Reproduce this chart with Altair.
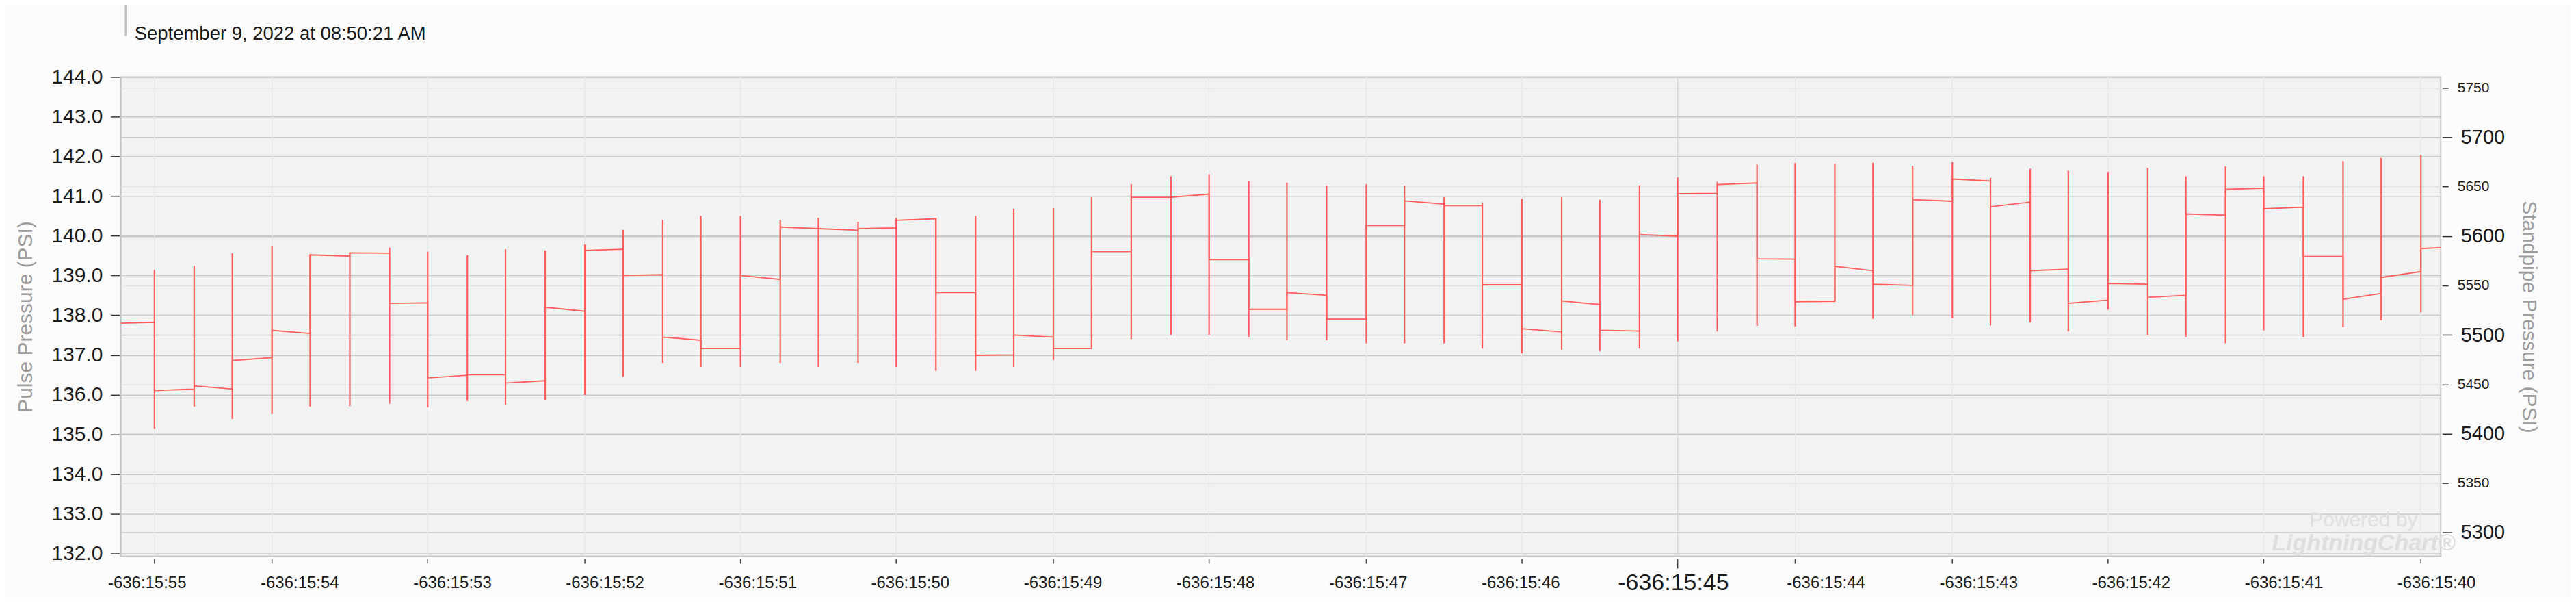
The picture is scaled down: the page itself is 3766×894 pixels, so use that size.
import altair as alt
import pandas as pd

TITLE = "September 9, 2022 at 08:50:21 AM"
LEFT_TITLE = "Pulse Pressure (PSI)"
RIGHT_TITLE = "Standpipe Pressure (PSI)"

# x axis: seconds from the first label; labels sit on whole seconds
x_label_pos = list(range(16))
x_labels = ["-636:15:55", "-636:15:54", "-636:15:53", "-636:15:52", "-636:15:51",
            "-636:15:50", "-636:15:49", "-636:15:48", "-636:15:47", "-636:15:46",
            "-636:15:45", "-636:15:44", "-636:15:43", "-636:15:42", "-636:15:41",
            "-636:15:40"]
x_major_label = 10
x_domain = [-0.17, 15.03]

# tick marks / vertical grid lines (LightningChart puts them on sample times)
tick_times = [0.05, 0.82, 1.84, 2.87, 3.89, 4.91, 5.94, 6.96, 7.99, 9.01,
              10.03, 10.80, 11.83, 12.85, 13.87, 14.90]
tick_major = [False] * 10 + [True] + [False] * 5

# left axis
left_domain = [131.93, 144.0]
left_ticks = [132, 133, 134, 135, 136, 137, 138, 139, 140, 141, 142, 143, 144]
# right axis (same vertical space)
right_domain = [5276, 5761]
right_ticks = [5300, 5350, 5400, 5450, 5500, 5550, 5600, 5650, 5700, 5750]

# Pulse pressure samples: vertical spikes at sample times
spike_t = [0.05, 0.31, 0.56, 0.82, 1.07, 1.33, 1.59, 1.84, 2.10, 2.35,
           2.61, 2.87, 3.12, 3.38, 3.63, 3.89, 4.15, 4.40, 4.66, 4.91,
           5.17, 5.43, 5.68, 5.94, 6.19, 6.45, 6.71, 6.96, 7.22, 7.47,
           7.73, 7.99, 8.24, 8.50, 8.75, 9.01, 9.27, 9.52, 9.78, 10.03,
           10.29, 10.55, 10.80, 11.06, 11.31, 11.57, 11.83, 12.08, 12.34, 12.59,
           12.85, 13.11, 13.36, 13.62, 13.87, 14.13, 14.39, 14.64, 14.90]
spike_hi = [139.14, 139.24, 139.56, 139.73, 139.53, 139.58, 139.70, 139.60, 139.51, 139.66,
            139.63, 139.78, 140.15, 140.40, 140.50, 140.50, 140.40, 140.45, 140.35, 140.45,
            140.45, 140.50, 140.68, 140.70, 140.97, 141.30, 141.50, 141.55, 141.38, 141.34,
            141.26, 141.30, 141.26, 140.97, 140.84, 140.93, 140.97, 140.91, 141.27, 141.47,
            141.36, 141.79, 141.83, 141.81, 141.84, 141.76, 141.86, 141.46, 141.69, 141.64,
            141.61, 141.71, 141.50, 141.75, 141.50, 141.50, 141.88, 141.96, 142.04]
spike_lo = [135.14, 135.70, 135.39, 135.51, 135.70, 135.71, 135.77, 135.68, 135.84, 135.74,
            135.87, 135.99, 136.45, 136.80, 136.70, 136.70, 136.80, 136.70, 136.80, 136.70,
            136.60, 136.60, 136.70, 136.87, 137.20, 137.40, 137.50, 137.50, 137.45, 137.37,
            137.37, 137.29, 137.29, 137.29, 137.16, 137.04, 137.12, 137.09, 137.16, 137.34,
            137.59, 137.73, 137.72, 138.35, 137.91, 138.00, 137.93, 137.74, 137.82, 137.59,
            138.14, 137.50, 137.45, 137.29, 137.62, 137.45, 137.70, 137.87, 138.07]
# level right after each spike, and right before the next one
seg_start = [136.10, 136.22, 136.86, 137.62, 139.52, 139.57, 138.30, 136.42, 136.50, 136.29,
             138.20, 139.63, 139.00, 137.45, 137.16, 139.00, 140.22, 140.18, 140.18, 140.39,
             138.57, 136.99, 137.50, 137.16, 139.60, 140.97, 140.97, 139.40, 138.15, 138.57,
             137.90, 140.26, 140.88, 140.76, 138.77, 137.66, 138.36, 137.62, 140.03, 141.06,
             141.29, 139.42, 138.34, 139.23, 138.78, 140.91, 141.43, 140.73, 139.12, 138.30,
             138.80, 138.45, 140.55, 141.17, 140.68, 139.48, 138.40, 138.95, 139.68]
seg_end = [136.14, 136.14, 136.93, 137.54, 139.49, 139.56, 138.31, 136.49, 136.50, 136.35,
           138.10, 139.66, 139.02, 137.37, 137.16, 138.90, 140.18, 140.14, 140.20, 140.43,
           138.57, 137.00, 137.45, 137.16, 139.60, 140.97, 141.05, 139.40, 138.15, 138.50,
           137.90, 140.26, 140.80, 140.76, 138.77, 137.58, 138.27, 137.60, 139.99, 141.07,
           141.33, 139.41, 138.35, 139.12, 138.75, 140.87, 141.38, 140.85, 139.16, 138.38,
           138.78, 138.50, 140.52, 141.20, 140.72, 139.48, 138.55, 139.10, 139.70]
lead_in = [137.80, 137.82]  # level before the first spike

RED = "#ff5c5c"
FONT = "Liberation Sans"
W, H = 3396, 701

# ---- tables built from the lists ----
spikes = pd.DataFrame({"t": spike_t, "lo": spike_lo, "hi": spike_hi})
pts_t = [x_domain[0], spike_t[0]]
pts_v = list(lead_in)
for i in range(len(spike_t)):
    nxt = spike_t[i + 1] if i + 1 < len(spike_t) else x_domain[1]
    pts_t += [spike_t[i], nxt]
    pts_v += [seg_start[i], seg_end[i]]
line_df = pd.DataFrame({"t": pts_t, "v": pts_v, "o": list(range(len(pts_t)))})
ticks_df = pd.DataFrame({"t": tick_times, "major": tick_major})
right_df = pd.DataFrame({"sp": right_ticks})
text_df = pd.DataFrame({"title": [TITLE], "a": ["Powered by"], "b": ["LightningChart\u00ae"]})

label_arr = "[" + ",".join("'" + s + "'" for s in x_labels) + "]"

x_scale = alt.Scale(domain=x_domain, nice=False, zero=False)
y_scale = alt.Scale(domain=left_domain, nice=False, zero=False)

x_axis = alt.Axis(
    values=x_label_pos, labelExpr=label_arr + "[datum.value]", ticks=False, grid=False,
    domain=False, title=None, labelFont=FONT, labelColor="#1a1a1a",
    labelFontSize={"condition": {"test": f"datum.value == {x_major_label}", "value": 34}, "value": 24},
    labelBaseline="middle", labelPadding=39, labelOverlap=False, labelFlush=False,
)
left_axis = alt.Axis(
    values=left_ticks, format=".1f", orient="left", grid=True, gridColor="#c9c9c9", gridWidth=1.5,
    domain=False, tickColor="#333333", tickSize=13, tickWidth=1.5, offset=2,
    labelFont=FONT, labelFontSize=30, labelColor="#1a1a1a", labelPadding=12,
    title=LEFT_TITLE, titleFont=FONT, titleFontSize=30, titleFontWeight="normal",
    titleColor="#9c9c9c", titlePadding=22,
)
right_axis = alt.Axis(
    values=right_ticks, format="d", orient="right", grid=True,
    gridColor={"condition": {"test": "datum.value % 100 === 0", "value": "#c9c9c9"}, "value": "#e3e3e3"},
    gridWidth=1.5, domain=False, tickColor="#333333",
    tickSize={"condition": {"test": "datum.value % 100 === 0", "value": 14}, "value": 9},
    tickWidth=1.5, offset=2, labelFont=FONT, labelColor="#1a1a1a",
    labelFontSize={"condition": {"test": "datum.value % 100 === 0", "value": 29}, "value": 21},
    labelPadding=13, title=RIGHT_TITLE, titleFont=FONT, titleFontSize=30,
    titleFontWeight="normal", titleColor="#9c9c9c", titlePadding=20,
)

X = alt.X("t:Q", scale=x_scale, axis=x_axis)

# right axis carrier (invisible rules), drawn first so its grid sits underneath
right_layer = alt.Chart(right_df).mark_rule(opacity=0).encode(
    y=alt.Y("sp:Q", scale=alt.Scale(domain=right_domain, nice=False, zero=False), axis=right_axis)
)

vgrid = alt.Chart(ticks_df).mark_rule(strokeWidth=1.5).encode(
    x=X, y=alt.value(0), y2=alt.value(H),
    color=alt.condition("datum.major", alt.value("#d6d6d6"), alt.value("#e8e8e8")),
)
xticks_minor = alt.Chart(ticks_df).transform_filter("!datum.major").mark_rule(
    strokeWidth=1.5, color="#444444").encode(x=X, y=alt.value(H + 4), y2=alt.value(H + 11))
xticks_major = alt.Chart(ticks_df).transform_filter("datum.major").mark_rule(
    strokeWidth=1.5, color="#444444").encode(x=X, y=alt.value(H + 4), y2=alt.value(H + 18))

spike_layer = alt.Chart(spikes).mark_rule(color=RED, strokeWidth=2.2).encode(
    x=X, y=alt.Y("lo:Q", scale=y_scale, axis=left_axis), y2="hi:Q",
)
line_layer = alt.Chart(line_df).mark_line(color=RED, strokeWidth=1.8, clip=True).encode(
    x=X, y=alt.Y("v:Q", scale=y_scale, axis=left_axis), order="o:Q",
)

wm1 = alt.Chart(text_df).mark_text(font=FONT, fontSize=30, color="#e0e0e0", align="center").encode(
    text="a:N", x=alt.value(3283), y=alt.value(648))
wm2 = alt.Chart(text_df).mark_text(font=FONT, fontSize=34, color="#dedede", align="center",
                                   fontStyle="italic", fontWeight="bold").encode(
    text="b:N", x=alt.value(3283), y=alt.value(682))

title_text = alt.Chart(text_df).mark_text(font=FONT, fontSize=27.5, color="#1a1a1a", align="left",
                                          baseline="alphabetic").encode(
    text="title:N", x=alt.value(20), y=alt.value(-55))
title_bar = alt.Chart(text_df).mark_rule(color="#c4c4c4", strokeWidth=3).encode(
    x=alt.value(7), y=alt.value(-110), y2=alt.value(-60))

left_group = alt.layer(vgrid, xticks_minor, xticks_major, wm1, wm2, title_text, title_bar,
                       spike_layer, line_layer)

chart = alt.layer(right_layer, left_group).resolve_scale(y="independent").properties(
    width=W, height=H,
    padding={"left": 169, "top": 104, "right": 190, "bottom": 60},
    autosize=alt.AutoSizeParams(type="none"),
    background="#fbfbfb",
).configure_view(fill="#f2f2f2", stroke="#c6c6c6", strokeWidth=2)

chart.save("out.html", embed_options={"renderer": "svg", "actions": False})
